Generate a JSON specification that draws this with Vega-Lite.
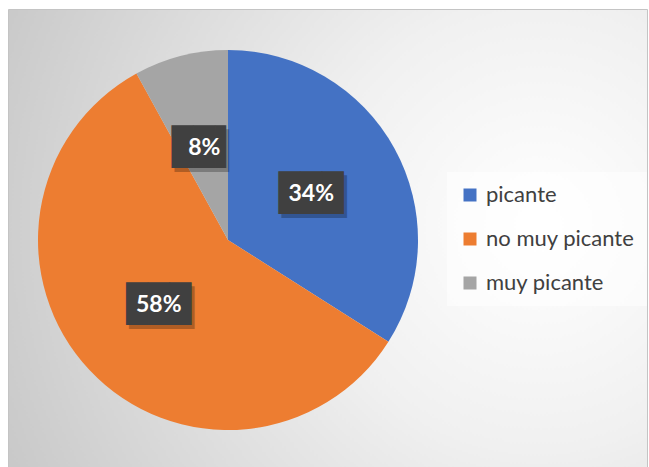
{
  "$schema": "https://vega.github.io/schema/vega-lite/v6.json",
  "autosize": "none",
  "width": 639,
  "height": 458,
  "padding": {"left": 8, "top": 9, "right": 2, "bottom": 0},
  "background": "#ffffff",
  "view": {
    "fill": {"gradient": "radial", "x1": 0.83, "y1": 0.48, "r1": 0, "x2": 0.83, "y2": 0.48, "r2": 1.0,
      "stops": [{"offset": 0, "color": "#ffffff"}, {"offset": 0.35, "color": "#f0f0f0"}, {"offset": 1, "color": "#c2c2c2"}]},
    "stroke": "#c4c4c4",
    "strokeWidth": 1
  },
  "data": {
    "values": [
      {"cat": "picante", "pct": 34, "label": "34%", "idx": 1},
      {"cat": "no muy picante", "pct": 58, "label": "58%", "idx": 2},
      {"cat": "muy picante", "pct": 8, "label": "8%", "idx": 3}
    ]
  },
  "encoding": {
    "theta": {"field": "pct", "type": "quantitative", "stack": true},
    "order": {"field": "idx", "type": "quantitative"}
  },
  "layer": [
    {
      "mark": {"type": "arc", "outerRadius": 190, "x": 220, "y": 231},
      "encoding": {
        "color": {
          "field": "cat", "type": "nominal",
          "scale": {"domain": ["picante", "no muy picante", "muy picante"], "range": ["#4472C4", "#ED7D31", "#A5A5A5"]},
          "legend": {
            "title": null, "orient": "none", "legendX": 439, "legendY": 163,
            "symbolType": "square", "symbolSize": 169, "symbolStrokeWidth": 0,
            "labelFont": "Lato", "labelFontSize": 22, "labelColor": "#404040",
            "labelOffset": 5, "rowPadding": 22, "padding": 12,
            "fillColor": "rgba(255,255,255,0.55)", "strokeColor": null
          }
        }
      }
    },
    {
      "mark": {"type": "text", "radius": 95, "x": 223, "y": 235, "font": "DejaVu Sans Mono", "fontSize": 36, "baseline": "middle", "align": "center", "color": "#000000", "opacity": 0.25},
      "encoding": {
        "text": {"condition": {"test": "datum.cat === 'muy picante'", "value": "██▌"}, "value": "███"}
      }
    },
    {
      "mark": {"type": "text", "radius": 95, "x": 220, "y": 231, "font": "DejaVu Sans Mono", "fontSize": 36, "baseline": "middle", "align": "center", "color": "#404040"},
      "encoding": {
        "text": {"condition": {"test": "datum.cat === 'muy picante'", "value": "██▌"}, "value": "███"}
      }
    },
    {
      "mark": {"type": "text", "radius": 95, "x": 220, "y": 231, "font": "Lato", "fontSize": 23, "fontWeight": "bold", "baseline": "middle", "align": "center", "color": "#ffffff"},
      "encoding": {
        "text": {"field": "label", "type": "nominal"}
      }
    }
  ]
}
